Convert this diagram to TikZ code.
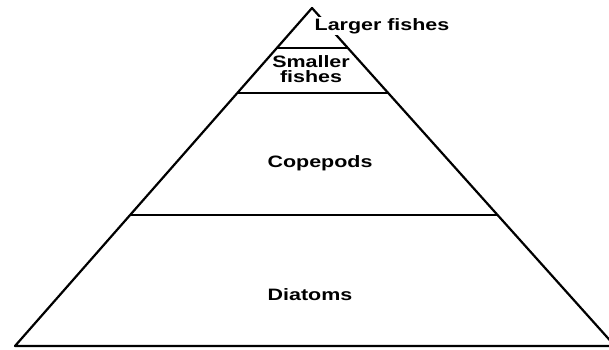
\documentclass[tikz,border=0pt]{standalone}
\usepackage{fontspec}
\setmainfont{Liberation Sans}[FakeStretch=1.3]
\usetikzlibrary{calc}

\begin{document}
\begin{tikzpicture}[x=1pt,y=-1pt,line width=2.2pt,line join=round,
    level/.style={font=\fontsize{16.5}{15}\selectfont\bfseries,inner sep=0pt}]
    \useasboundingbox (0,0) rectangle (609,349);
    \clip (0,0) rectangle (609,349);
    % Pyramid outline
    \coordinate (apex) at (312,8);
    \coordinate (baseL) at (15,346);
    \coordinate (baseR) at (615,346);
    \draw (baseL) -- (apex) -- (baseR) -- cycle;

    % Trophic level dividers
    \foreach \t [count=\i] in {0.118,0.251,0.612} {
        \draw ($(apex)!\t!(baseL)$) coordinate (l\i) -- ($(apex)!\t!(baseR)$) coordinate (r\i);
    }

    \node[level, fill=white, inner sep=1pt, anchor=base] (larger) at (382,30) {Larger fishes};
    \node[level, align=center, anchor=north] (smaller) at (311,54) {Smaller\\fishes};
    \node[level, anchor=base] (copepods) at (320,167) {Copepods};
    \node[level, anchor=base] (diatoms) at (310,300) {Diatoms};
\end{tikzpicture}
\end{document}
